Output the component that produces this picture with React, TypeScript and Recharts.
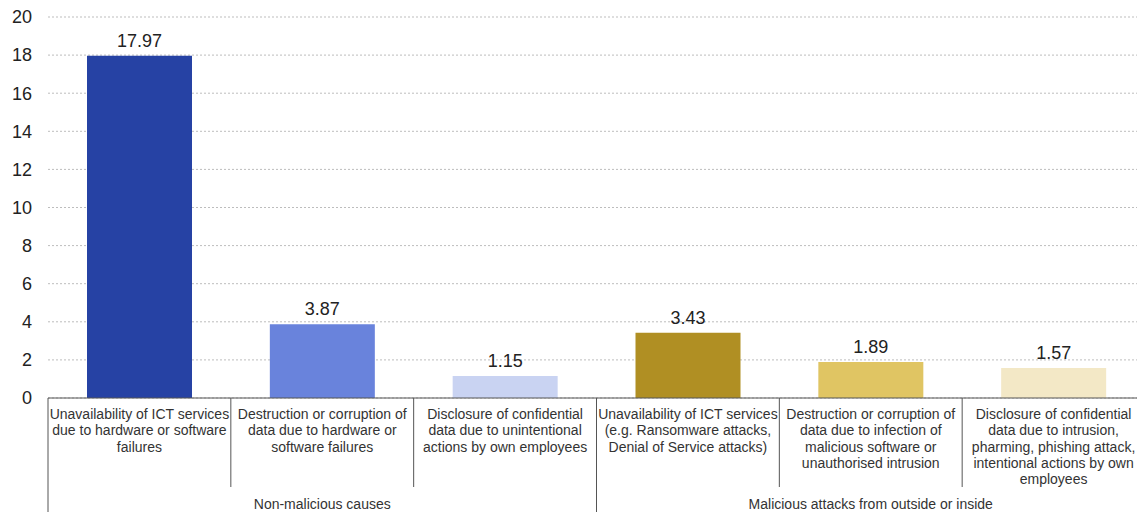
import React from 'react';
import { BarChart, Bar, XAxis, YAxis, CartesianGrid, Cell, LabelList } from 'recharts';

const categories = [
  'Unavailability of ICT services\ndue to hardware or software\nfailures',
  'Destruction or corruption of\ndata due to hardware or\nsoftware failures',
  'Disclosure of confidential\ndata due to unintentional\nactions by own employees',
  'Unavailability of ICT services\n(e.g. Ransomware attacks,\nDenial of Service attacks)',
  'Destruction or corruption of\ndata due to infection of\nmalicious software or\nunauthorised intrusion',
  'Disclosure of confidential\ndata due to intrusion,\npharming, phishing attack,\nintentional actions by own\nemployees',
];
const values = [17.97, 3.87, 1.15, 3.43, 1.89, 1.57];
const groups = ['Non-malicious causes', 'Malicious attacks from outside or inside'];
const groupSizes = [3, 3];
const barColors = ['#2642A4', '#6983DC', '#C9D3F2', '#B08F23', '#E0C563', '#F3E8C6'];
const yTicks = [0, 2, 4, 6, 8, 10, 12, 14, 16, 18, 20];

const data = categories.map((name, i) => ({ name, value: values[i] }));

const CHART_W = 1150;
const PLOT_LEFT = 48;
const PLOT_RIGHT_MARGIN = 5;
const BAND = (CHART_W - PLOT_LEFT - PLOT_RIGHT_MARGIN) / categories.length;
const FONT = "'Liberation Sans', Arial, sans-serif";

const CategoryTick = (props: any) => {
  const { x, y, payload } = props;
  const index: number = payload.index;
  const half = payload.offset || BAND / 2;
  const lines = categories[index].split('\n');

  // which group does this category start?
  let start = 0;
  let groupIdx = -1;
  groupSizes.forEach((size, g) => {
    if (start === index) groupIdx = g;
    start += size;
  });

  const left = x - half;
  return (
    <g>
      <line x1={left} y1={y} x2={left} y2={groupIdx >= 0 ? y + 114 : y + 89} stroke="#555" strokeWidth={1} />
      {lines.map((line, i) => (
        <text key={i} x={x} y={y + 21 + i * 16.3} textAnchor="middle" fontSize={14} fill="#333" fontFamily={FONT}>
          {line}
        </text>
      ))}
      {groupIdx >= 0 && (
        <text x={left + groupSizes[groupIdx] * half} y={y + 111} textAnchor="middle" fontSize={14} fill="#333"
          fontFamily={FONT}>
          {groups[groupIdx]}
        </text>
      )}
    </g>
  );
};

export default function App() {
  return (
    <div style={{ position: 'absolute', left: 0, top: 0, width: 1137, height: 512, overflow: 'hidden', background: '#fff' }}>
      <BarChart
        width={CHART_W}
        height={512}
        data={data}
        margin={{ top: 17, right: PLOT_RIGHT_MARGIN, left: 0, bottom: 0 }}
        style={{ fontFamily: FONT }}
      >
        <CartesianGrid vertical={false} stroke="#bdbdbd" strokeDasharray="2 2" />
        <XAxis
          dataKey="name"
          height={114}
          interval={0}
          tickLine={false}
          tickSize={0}
          tickMargin={0}
          axisLine={{ stroke: '#555' }}
          tick={<CategoryTick />}
        />
        <YAxis
          width={PLOT_LEFT}
          domain={[0, 20]}
          ticks={yTicks}
          axisLine={false}
          tickLine={false}
          tickSize={0}
          tickMargin={16}
          tick={{ fill: '#222', fontSize: 18 }}
        />
        <Bar dataKey="value" barSize={105} isAnimationActive={false}>
          {data.map((entry, i) => (
            <Cell key={`cell-${i}`} fill={barColors[i]} />
          ))}
          <LabelList dataKey="value" position="top" offset={9} fill="#222" fontSize={18}
            formatter={(v: any) => Number(v).toFixed(2)} />
        </Bar>
      </BarChart>
    </div>
  );
}
